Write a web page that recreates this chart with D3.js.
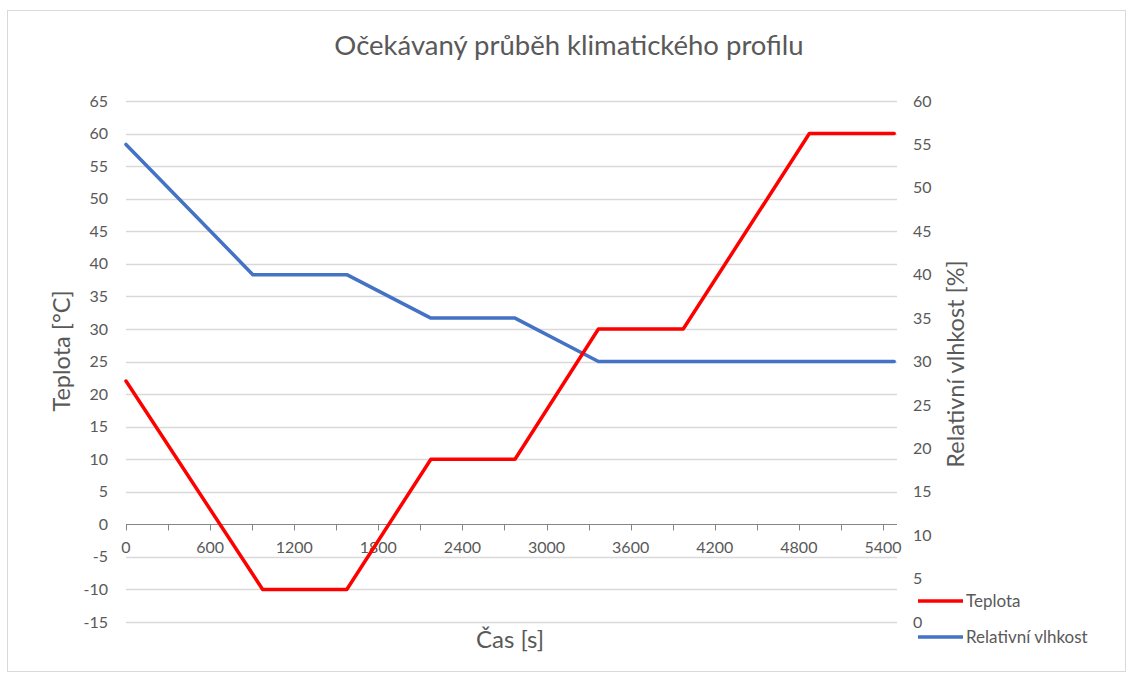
<!DOCTYPE html>
<html>
<head>
<meta charset="utf-8">
<script src="https://cdn.jsdelivr.net/npm/d3@7"></script>
<style>
  html, body { margin: 0; padding: 0; background: #fff; }
  svg { display: block; font-family: "Lato", "Liberation Sans", sans-serif; }
</style>
</head>
<body>
<svg id="chart" width="1128" height="674"></svg>
<script>
// Time (s) breakpoints of the climate profile
const tempTime  = [0, 975, 1575, 2175, 2775, 3370, 3975, 4875, 5480];
const tempValue = [22, -10, -10, 10, 10, 30, 30, 60, 60];          // °C
const humTime   = [0, 905, 1575, 2175, 2775, 3370, 5480];
const humValue  = [55, 40, 40, 35, 35, 30, 30];                    // %

const leftTicks  = [-15, -10, -5, 0, 5, 10, 15, 20, 25, 30, 35, 40, 45, 50, 55, 60, 65];
const rightTicks = [0, 5, 10, 15, 20, 25, 30, 35, 40, 45, 50, 55, 60];
const xMinorTicks = d3.range(0, 5401, 300);
const xLabels = [0, 600, 1200, 1800, 2400, 3000, 3600, 4200, 4800, 5400];

const titleText = "Očekávaný průběh klimatického profilu";
const xTitle = "Čas [s]";
const yLeftTitle = "Teplota [°C]";
const yRightTitle = "Relativní vlhkost [%]";
const seriesNames = ["Teplota", "Relativní vlhkost"];
const seriesColors = ["#ff0000", "#4472c4"];

const svg = d3.select("#chart");
const textColor = "#595959";
const gridColor = "#d9d9d9";

const x  = d3.scaleLinear().domain([0, 5500]).range([126, 897]);
const yL = d3.scaleLinear().domain([-15, 65]).range([622, 101]);
const yR = d3.scaleLinear().domain([0, 60]).range([622, 101]);

// chart frame
svg.append("rect")
  .attr("x", 7.5).attr("y", 10.5).attr("width", 1118).attr("height", 661)
  .attr("fill", "#fff").attr("stroke", "#d9d9d9").attr("stroke-width", 1);

// title
svg.append("text")
  .attr("x", 569).attr("y", 55).attr("text-anchor", "middle")
  .attr("font-size", 27.5).attr("fill", textColor).text(titleText);

// horizontal gridlines on the temperature scale
svg.append("g").selectAll("line").data(leftTicks.filter(d => d !== 0)).join("line")
  .attr("x1", x.range()[0]).attr("x2", x.range()[1])
  .attr("y1", d => Math.round(yL(d)) + 0.5).attr("y2", d => Math.round(yL(d)) + 0.5)
  .attr("stroke", gridColor).attr("stroke-width", 1.5);

// left axis labels
svg.append("g").selectAll("text").data(leftTicks).join("text")
  .attr("x", 108).attr("y", d => yL(d)).attr("dy", "0.35em")
  .attr("text-anchor", "end").attr("font-size", 16).attr("fill", textColor)
  .text(d => d);

// right axis labels
svg.append("g").selectAll("text").data(rightTicks).join("text")
  .attr("x", 913).attr("y", d => yR(d)).attr("dy", "0.35em")
  .attr("text-anchor", "start").attr("font-size", 16).attr("fill", textColor)
  .text(d => d);

// time axis placed at 0 °C
const y0 = Math.round(yL(0)) + 0.5;
const xAxis = svg.append("g").attr("transform", `translate(0,${y0})`);
xAxis.append("line")
  .attr("x1", x.range()[0]).attr("x2", x.range()[1])
  .attr("stroke", "#868686").attr("stroke-width", 1.2);
xAxis.selectAll("line.tick").data(xMinorTicks).join("line")
  .attr("class", "tick")
  .attr("x1", d => Math.round(x(d)) + 0.5).attr("x2", d => Math.round(x(d)) + 0.5)
  .attr("y1", 0).attr("y2", 6)
  .attr("stroke", "#868686").attr("stroke-width", 1);
xAxis.selectAll("text").data(xLabels).join("text")
  .attr("x", d => x(d)).attr("y", 28)
  .attr("text-anchor", "middle").attr("font-size", 16).attr("fill", textColor)
  .text(d => d);

// axis titles
svg.append("text")
  .attr("x", 510).attr("y", 648).attr("text-anchor", "middle")
  .attr("font-size", 24).attr("fill", textColor).text(xTitle);
svg.append("text")
  .attr("transform", "translate(70,351) rotate(-90)").attr("text-anchor", "middle")
  .attr("font-size", 23.5).attr("fill", textColor).text(yLeftTitle);
svg.append("text")
  .attr("transform", "translate(964,364) rotate(-90)").attr("text-anchor", "middle")
  .attr("font-size", 23.5).attr("fill", textColor).text(yRightTitle);

// data lines
const tempData = tempTime.map((t, i) => [t, tempValue[i]]);
const humData  = humTime.map((t, i) => [t, humValue[i]]);

svg.append("path").datum(humData)
  .attr("fill", "none").attr("stroke", seriesColors[1]).attr("stroke-width", 3.5)
  .attr("stroke-linejoin", "round").attr("stroke-linecap", "round")
  .attr("d", d3.line().x(d => x(d[0])).y(d => yR(d[1])));

svg.append("path").datum(tempData)
  .attr("fill", "none").attr("stroke", seriesColors[0]).attr("stroke-width", 3.5)
  .attr("stroke-linejoin", "round").attr("stroke-linecap", "round")
  .attr("d", d3.line().x(d => x(d[0])).y(d => yL(d[1])));

// legend
const legend = svg.append("g");
const legendY = [601, 637];
seriesNames.forEach((name, i) => {
  legend.append("line")
    .attr("x1", 918).attr("x2", 963).attr("y1", legendY[i]).attr("y2", legendY[i])
    .attr("stroke", seriesColors[i]).attr("stroke-width", 3.5);
  legend.append("text")
    .attr("x", 966).attr("y", legendY[i]).attr("dy", "0.35em")
    .attr("font-size", 17).attr("fill", textColor).text(name);
});
</script>
</body>
</html>
